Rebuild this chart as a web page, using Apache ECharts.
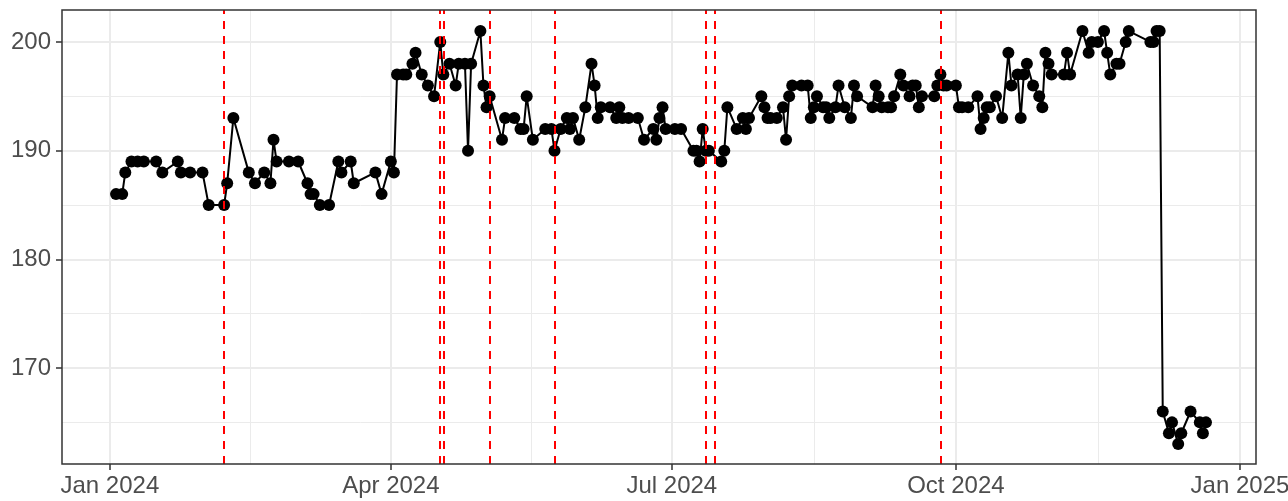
<!DOCTYPE html>
<html>
<head>
<meta charset="utf-8">
<script src="https://cdn.jsdelivr.net/npm/echarts@6/dist/echarts.min.js"></script>
<style>html,body{margin:0;padding:0;background:#fff}#c{width:1288px;height:501px}</style>
</head>
<body>
<div id="c"></div>
<script>
// ---- data ----
const dates = [
'2024-01-03','2024-01-05','2024-01-06','2024-01-08','2024-01-10','2024-01-12','2024-01-16','2024-01-18','2024-01-23','2024-01-24','2024-01-27','2024-01-31',
'2024-02-02','2024-02-07','2024-02-08','2024-02-10','2024-02-15','2024-02-17','2024-02-20','2024-02-22','2024-02-23','2024-02-24','2024-02-28',
'2024-03-02','2024-03-05','2024-03-06','2024-03-07','2024-03-09','2024-03-12','2024-03-15','2024-03-16','2024-03-19','2024-03-20','2024-03-27','2024-03-29',
'2024-04-01','2024-04-02','2024-04-03','2024-04-05','2024-04-06','2024-04-08','2024-04-09','2024-04-11','2024-04-13','2024-04-15','2024-04-17','2024-04-18','2024-04-20','2024-04-22','2024-04-23','2024-04-25','2024-04-26','2024-04-27','2024-04-30',
'2024-05-01','2024-05-02','2024-05-03','2024-05-07','2024-05-08','2024-05-11','2024-05-13','2024-05-14','2024-05-15','2024-05-17','2024-05-21','2024-05-23','2024-05-24','2024-05-26','2024-05-28','2024-05-29','2024-05-30',
'2024-06-01','2024-06-03','2024-06-05','2024-06-06','2024-06-07','2024-06-08','2024-06-11','2024-06-13','2024-06-14','2024-06-15','2024-06-17','2024-06-20','2024-06-22','2024-06-25','2024-06-26','2024-06-27','2024-06-28','2024-06-29',
'2024-07-02','2024-07-04','2024-07-08','2024-07-09','2024-07-10','2024-07-11','2024-07-12','2024-07-13','2024-07-17','2024-07-18','2024-07-19','2024-07-22','2024-07-24','2024-07-25','2024-07-26','2024-07-30','2024-07-31',
'2024-08-01','2024-08-02','2024-08-04','2024-08-06','2024-08-07','2024-08-08','2024-08-09','2024-08-12','2024-08-14','2024-08-15','2024-08-16','2024-08-17','2024-08-19','2024-08-20','2024-08-21','2024-08-23','2024-08-24','2024-08-26','2024-08-28','2024-08-29','2024-08-30',
'2024-09-04','2024-09-05','2024-09-06','2024-09-07','2024-09-09','2024-09-10','2024-09-11','2024-09-13','2024-09-14','2024-09-16','2024-09-17','2024-09-18','2024-09-19','2024-09-20','2024-09-24','2024-09-25','2024-09-26','2024-09-27','2024-09-28',
'2024-10-01','2024-10-02','2024-10-03','2024-10-05','2024-10-08','2024-10-09','2024-10-10','2024-10-11','2024-10-12','2024-10-14','2024-10-16','2024-10-18','2024-10-19','2024-10-21','2024-10-22','2024-10-23','2024-10-24','2024-10-26','2024-10-28','2024-10-29','2024-10-30','2024-10-31',
'2024-11-01','2024-11-05','2024-11-06','2024-11-07','2024-11-11','2024-11-13','2024-11-14','2024-11-16','2024-11-18','2024-11-19','2024-11-20','2024-11-22','2024-11-23','2024-11-25','2024-11-26',
'2024-12-03','2024-12-04','2024-12-05','2024-12-06','2024-12-07','2024-12-09','2024-12-10','2024-12-12','2024-12-13','2024-12-16','2024-12-19','2024-12-20','2024-12-21'
];
const values = [
186,186,188,189,189,189,189,188,189,188,188,188,
185,185,187,193,188,187,188,187,191,189,189,
189,187,186,186,185,185,189,188,189,187,188,186,
189,188,197,197,197,198,199,197,196,195,200,197,198,196,198,198,190,198,201,
196,194,195,191,193,193,192,192,195,191,192,192,190,192,193,192,193,
191,194,198,196,193,194,194,193,194,193,193,193,191,192,191,193,194,192,
192,192,190,190,189,192,190,190,189,190,194,192,193,192,193,195,194,
193,193,193,194,191,195,196,196,196,193,194,195,194,194,193,194,196,194,193,196,195,
194,196,195,194,194,194,195,197,196,195,196,196,194,195,195,196,197,196,196,
196,194,194,194,195,192,193,194,194,195,193,199,196,197,193,197,198,196,195,194,199,198,
197,197,199,197,201,199,200,200,201,199,197,198,198,200,201,
200,200,201,201,166,164,165,163,164,166,165,164,165
];
const eventDates = ['2024-02-07','2024-04-17','2024-04-18','2024-05-03','2024-05-24','2024-07-12','2024-07-15','2024-09-26'];
const xBreaks = ['2024-01-01','2024-04-01','2024-07-01','2024-10-01','2025-01-01'];
const yBreaks = [170,180,190,200];
const yMinor = [165,175,185,195];
const monthNames = ['Jan','Feb','Mar','Apr','May','Jun','Jul','Aug','Sep','Oct','Nov','Dec'];

// ---- build ----
const ts = s => { const p = s.split('-'); return Date.UTC(+p[0], +p[1]-1, +p[2]); };
const DAY = 86400000;
const xMin = ts('2024-01-01') - 15.5*DAY;
const xMax = ts('2025-01-01') + 5.2*DAY;
const xBreakTs = xBreaks.map(ts);
const xMinorTs = [];
for (let i = 0; i < xBreakTs.length-1; i++) xMinorTs.push((xBreakTs[i]+xBreakTs[i+1])/2);

const gridLines = [];
xMinorTs.forEach(v => gridLines.push({xAxis: v, lineStyle:{color:'#EBEBEB', width:1, type:'solid'}}));
yMinor.forEach(v => gridLines.push({yAxis: v, lineStyle:{color:'#EBEBEB', width:1, type:'solid'}}));
xBreakTs.forEach(v => gridLines.push({xAxis: v, lineStyle:{color:'#EBEBEB', width:2, type:'solid'}}));
yBreaks.forEach(v => gridLines.push({yAxis: v, lineStyle:{color:'#EBEBEB', width:2, type:'solid'}}));

const data = dates.map((d,i) => [ts(d), values[i]]);
const font = 'Liberation Sans, Arial, Helvetica, sans-serif';

const chart = echarts.init(document.getElementById('c'), null, {renderer:'canvas'});
chart.setOption({
  animation: false,
  backgroundColor: '#ffffff',
  grid: {left: 62, right: 32, top: 10, bottom: 37, show: true, borderColor: '#333333', borderWidth: 1.5, backgroundColor: 'transparent', containLabel: false, outerBoundsMode: 'none', z: 20},
  xAxis: {
    type: 'value', min: xMin, max: xMax, scale: true,
    axisLine: {show: false},
    splitLine: {show: false},
    axisTick: {show: true, customValues: xBreakTs, length: 6, lineStyle: {color:'#333333', width: 1.5}},
    axisLabel: {customValues: xBreakTs, margin: 10, color: '#4D4D4D', fontSize: 24, fontFamily: font,
      formatter: v => { const d = new Date(v); return monthNames[d.getUTCMonth()] + ' ' + d.getUTCFullYear(); }}
  },
  yAxis: {
    type: 'value', min: 161.17, max: 202.94, scale: true,
    axisLine: {show: false},
    splitLine: {show: false},
    axisTick: {show: true, customValues: yBreaks, length: 6, lineStyle: {color:'#333333', width: 1.5}},
    axisLabel: {customValues: yBreaks, margin: 11, color: '#4D4D4D', fontSize: 24, fontFamily: font}
  },
  series: [
    {type:'line', data: [], z: 1, silent: true,
     markLine: {silent: true, z: 1, symbol: ['none','none'], label: {show:false}, animation:false, data: gridLines}},
    {type:'line', data: data, z: 3, symbol: 'circle', symbolSize: 12, showSymbol: true,
     itemStyle: {color:'#000000'}, lineStyle: {color:'#000000', width: 2}, silent: true},
    {type:'line', data: [], z: 10, silent: true,
     markLine: {silent: true, z: 10, symbol: ['none','none'], label: {show:false}, animation:false,
       data: eventDates.map(d => ({xAxis: ts(d)})), lineStyle: {color:'#FF0000', width: 2, type: [8,7]}}}
  ]
});
</script>
</body>
</html>
